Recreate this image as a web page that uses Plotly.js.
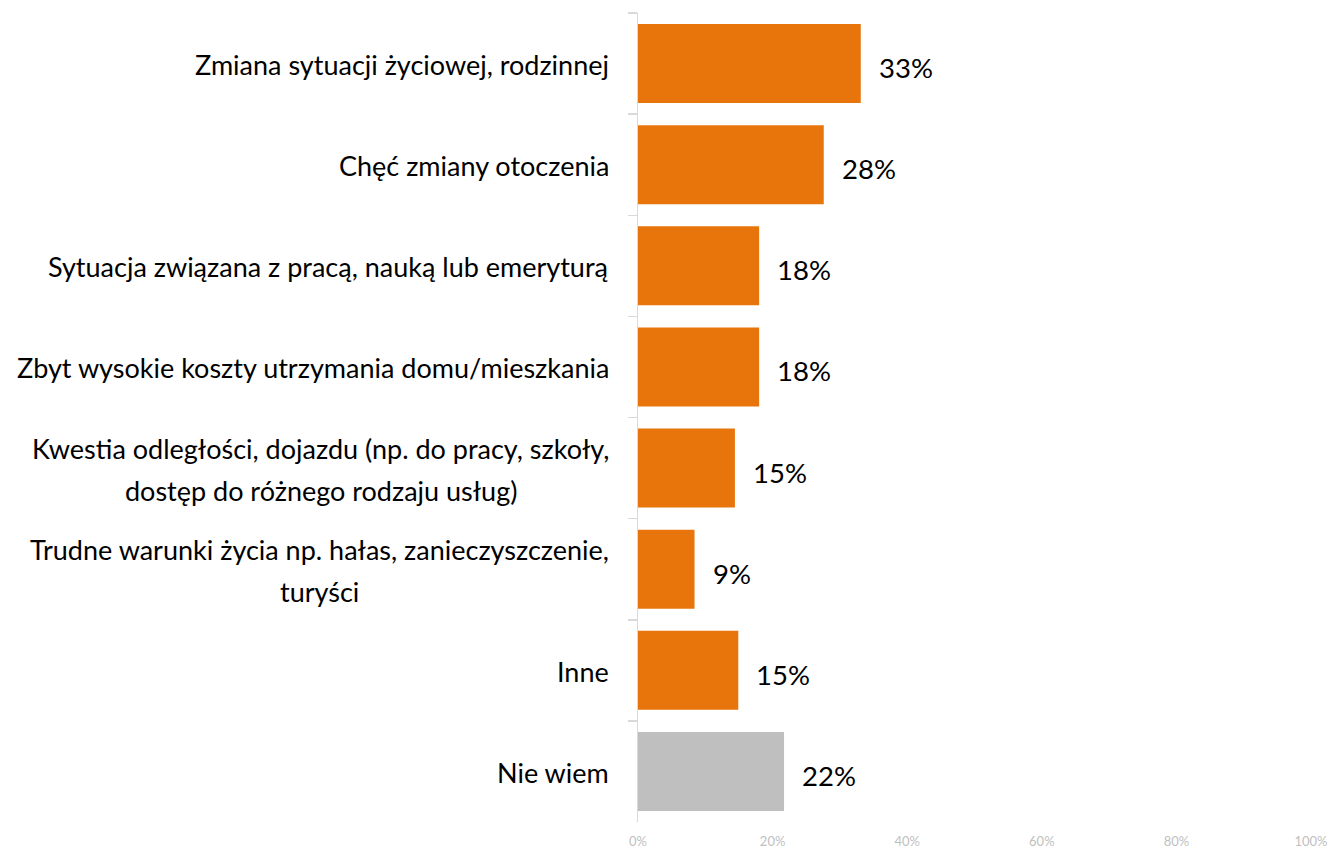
<!DOCTYPE html>
<html><head><meta charset="utf-8">
<script src="https://cdn.plot.ly/plotly-3.0.1.min.js"></script>
<style>html,body{margin:0;padding:0;background:#fff;}#chart{width:1329px;height:852px;}</style>
</head><body><div id="chart"></div>
<script>
const categories = [
  "Zmiana sytuacji życiowej, rodzinnej",
  "Chęć zmiany otoczenia",
  "Sytuacja związana z pracą, nauką lub emeryturą",
  "Zbyt wysokie koszty utrzymania domu/mieszkania",
  "Kwestia odległości, dojazdu (np. do pracy, szkoły,<br>dostęp do różnego rodzaju usług)",
  "Trudne warunki życia np. hałas, zanieczyszczenie,<br>turyści",
  "Inne",
  "Nie wiem"
];
const values = [33.1, 27.6, 18.0, 18.0, 14.4, 8.4, 14.9, 21.7];
const valueLabels = ["33%", "28%", "18%", "18%", "15%", "9%", "15%", "22%"];
const barColors = ["#E8740C","#E8740C","#E8740C","#E8740C","#E8740C","#E8740C","#E8740C","#BFBFBF"];
const xTickVals = [0, 20, 40, 60, 80, 100];
const xTickText = ["0%", "20%", "40%", "60%", "80%", "100%"];

const FONT = "Lato, 'Open Sans', sans-serif";
const LINE_GAP = 42;

const annotations = [];
categories.forEach((c, i) => {
  const lines = c.split("<br>");
  lines.forEach((ln, k) => {
    annotations.push({
      xref: "paper", yref: "y", x: 0, y: c, xanchor: "right", yanchor: "middle",
      xshift: -27, yshift: ((lines.length - 1) / 2 - k) * LINE_GAP - 1,
      text: ln, showarrow: false, align: "center",
      font: {family: FONT, size: 27, color: "#000"}
    });
  });
  annotations.push({
    xref: "x", yref: "y", x: values[i], y: c, xanchor: "left", yanchor: "middle",
    xshift: 16, yshift: -4, text: valueLabels[i], showarrow: false,
    font: {family: FONT, size: 27.5, color: "#000"}
  });
});

const data = [{
  type: "bar", orientation: "h",
  y: categories, x: values,
  marker: {color: barColors},
  hoverinfo: "none"
}];

const layout = {
  width: 1329, height: 852,
  margin: {l: 638, r: 18, t: 13, b: 30},
  paper_bgcolor: "#fff", plot_bgcolor: "#fff",
  bargap: 0.22,
  showlegend: false,
  xaxis: {
    range: [0, 100], tickvals: xTickVals, ticktext: xTickText,
    showgrid: false, zeroline: false, showline: false,
    ticks: "outside", ticklen: 7, tickcolor: "rgba(0,0,0,0)",
    ticklabeloverflow: "allow",
    tickfont: {family: FONT, size: 13, color: "#BFBFBF"},
    fixedrange: true
  },
  yaxis: {
    type: "category", autorange: "reversed",
    showticklabels: false, showgrid: false, zeroline: false,
    showline: true, linecolor: "#D9D9D9", linewidth: 1.5,
    ticks: "outside", tickson: "boundaries", ticklen: 9,
    tickcolor: "#D9D9D9", tickwidth: 1.5,
    fixedrange: true
  },
  annotations: annotations
};

Plotly.newPlot("chart", data, layout, {staticPlot: true, displayModeBar: false}).then(gd => {
  // centre the lines of multi-line labels relative to each other
  const groups = {};
  gd.layout.annotations.forEach((a, idx) => {
    if (a.xref === "paper") (groups[a.y] = groups[a.y] || []).push(idx);
  });
  const nodes = gd.querySelectorAll(".annotation");
  const upd = {};
  Object.values(groups).forEach(ids => {
    if (ids.length < 2) return;
    const widths = ids.map(id => nodes[id].querySelector("text").getBBox().width);
    const maxW = Math.max(...widths);
    ids.forEach((id, j) => {
      upd["annotations[" + id + "].xshift"] = -27 - (maxW - widths[j]) / 2;
    });
  });
  if (Object.keys(upd).length) Plotly.relayout(gd, upd);
});
</script>
</body></html>
